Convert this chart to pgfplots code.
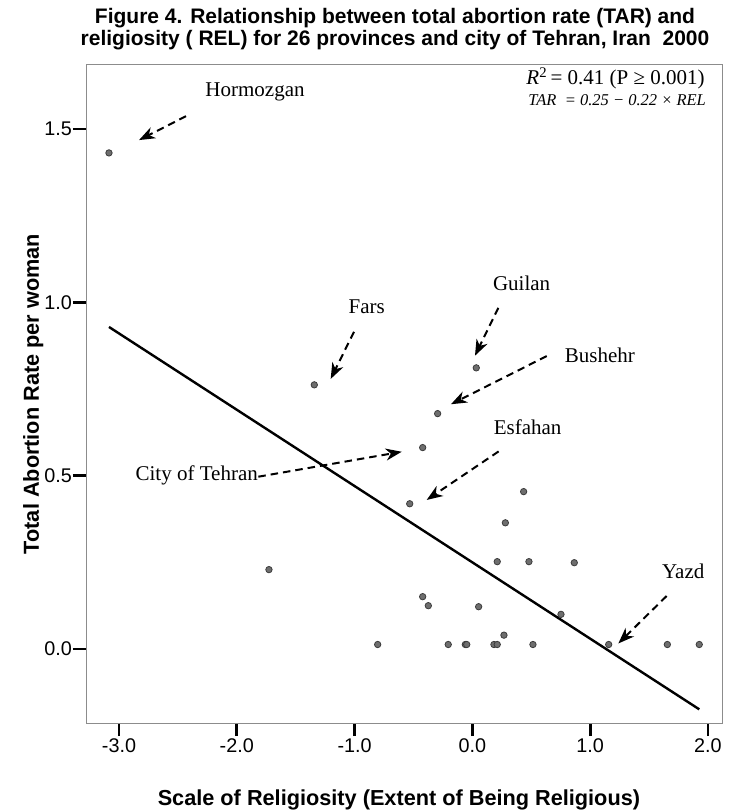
\documentclass[border=0pt]{standalone}
\usepackage{fontspec}
\setmainfont{Liberation Sans}
\newfontfamily\tnr{Liberation Serif}
\usepackage{pgfplots}
\pgfplotsset{compat=1.18}
\usetikzlibrary{arrows.meta}
\definecolor{dotfill}{HTML}{6E6E6E}
\definecolor{dotedge}{HTML}{3C3C3C}
\definecolor{framegray}{HTML}{8C8C8C}
\begin{document}
\begin{tikzpicture}
\useasboundingbox (-86bp,-89bp) rectangle (646bp,723bp);
\begin{axis}[
  scale only axis,
  width=636bp, height=658bp,
  xmin=-3.280, xmax=2.119,
  ymin=-0.2134, ymax=1.6846,
  axis line style={draw=framegray, line width=1bp},
  xtick={-3,-2,-1,0,1,2},
  ytick={0,0.5,1,1.5},
  tick align=outside,
  tick pos=left,
  major tick length=13bp,
  tick style={black, line width=2.8bp},
  /pgf/number format/assume math mode=true,
  /pgf/number format/.cd, fixed, fixed zerofill, precision=1,
  /pgfplots/.cd,
  ticklabel style={font=\fontsize{19.8bp}{22bp}\selectfont},
  xticklabel style={inner sep=2bp},
  yticklabel style={inner sep=1bp},
  xlabel={Scale of Religiosity (Extent of Being Religious)},
  ylabel={Total Abortion Rate per woman},
  label style={font=\fontsize{21.7bp}{24bp}\selectfont\bfseries},
  xlabel style={at={(axis description cs:0.492,-0.117)}, anchor=center},
  ylabel style={at={(axis description cs:-0.083,0.50)}, anchor=center},
  clip=false,
]
\addplot[only marks, mark=*, mark size=3.2bp,
  mark options={fill=dotfill, draw=dotedge, line width=0.8bp}]
coordinates {
(-3.085,1.431) (-1.342,0.762) (0.033,0.811) (-0.295,0.679) (-0.422,0.581)
(-0.532,0.419) (0.435,0.454) (0.280,0.364) (-1.727,0.229) (0.211,0.252)
(0.480,0.252) (0.865,0.249) (-0.422,0.151) (-0.374,0.125) (0.053,0.122)
(0.752,0.100) (0.268,0.040) (-0.804,0.013) (-0.205,0.013) (-0.060,0.013)
(-0.048,0.013) (0.183,0.013) (0.211,0.013) (0.514,0.013) (1.157,0.013)
(1.655,0.013) (1.926,0.013)
};
\addplot[black, line width=2.4bp, no marks] coordinates {(-3.085,0.929) (1.926,-0.174)};

% annotations
\tikzset{ann/.style={font=\tnr\fontsize{21bp}{24bp}\selectfont, inner sep=0pt},
  arr/.style={line width=2bp, dash pattern=on 7.5bp off 5bp, -{Stealth[length=16bp,width=12bp,inset=5bp]}}}
\node[ann] at (axis cs:-1.845,1.607) {Hormozgan};
\draw[arr] (axis cs:-2.431,1.537) -- (axis cs:-2.830,1.468);
\node[ann] at (axis cs:-0.897,0.986) {Fars};
\draw[arr] (axis cs:-1.005,0.915) -- (axis cs:-1.203,0.779);
\node[ann] at (axis cs:0.418,1.055) {Guilan};
\draw[arr] (axis cs:0.220,0.984) -- (axis cs:0.022,0.846);
\node[ann] at (axis cs:1.083,0.847) {Bushehr};
\draw[arr] (axis cs:0.631,0.845) -- (axis cs:-0.182,0.706);
\node[ann] at (axis cs:0.469,0.641) {Esfahan};
\draw[arr] (axis cs:0.223,0.570) -- (axis cs:-0.388,0.430);
\node[ann, anchor=east] at (axis cs:-1.820,0.500) {City of Tehran};
\draw[arr] (axis cs:-1.817,0.497) -- (axis cs:-0.600,0.569);
\node[ann] at (axis cs:1.790,0.223) {Yazd};
\draw[arr] (axis cs:1.649,0.153) -- (axis cs:1.239,0.016);

\node[anchor=east, inner sep=0pt, font=\tnr\fontsize{21bp}{24bp}\selectfont]
  at (rel axis cs:0.973,0.980) {\textit{R}\textsuperscript{2}\,= 0.41 (P ≥ 0.001)};
\node[anchor=east, inner sep=0pt, font=\tnr\itshape\fontsize{16.5bp}{20bp}\selectfont]
  at (rel axis cs:0.975,0.947) {TAR\ \ = 0.25 − 0.22 × REL};
\end{axis}
\node[align=center, inner sep=0pt, font=\fontsize{21bp}{22bp}\selectfont\bfseries]
  at (309bp,694bp) {Figure 4. Relationship between total abortion rate (TAR) and\\religiosity ( REL) for 26 provinces and city of Tehran, Iran\ \ 2000};
\end{tikzpicture}
\end{document}
